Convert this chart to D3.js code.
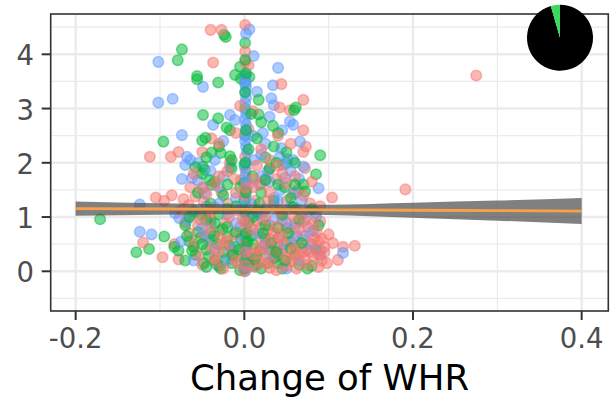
<!DOCTYPE html>
<html>
<head>
<meta charset="utf-8">
<script src="https://cdn.jsdelivr.net/npm/d3@7"></script>
<style>
  body { margin: 0; background: #fff; }
  svg { display: block; }
</style>
</head>
<body>
<div id="chart"></div>
<script>
const width = 610;
const height = 398;
const panel = {left: 50.7, right: 608.3, top: 14, bottom: 311};

const xTicks = [-0.2, 0.0, 0.2, 0.4];
const xMinor = [-0.1, 0.1, 0.3];
const yTicks = [0, 1, 2, 3, 4];
const yMinor = [-0.5, 0.5, 1.5, 2.5, 3.5, 4.5];
const xTitle = "Change of WHR";

// three groups of subjects, [change of WHR, outcome]
const groupA = [
  [0.275,3.61],[0.191,1.51],[-0.112,2.11],[-0.087,2.11],[-0.078,2.20],[-0.120,0.53],[-0.097,0.26],[-0.083,0.50],
  [-0.078,0.22],[0.111,0.21],[0.117,0.45],[0.131,0.47],[0.104,1.36],[0.073,2.30],[0.070,2.60],[0.070,3.16],
  [0.044,3.45],[0.042,3.02],[0.054,2.97],[-0.037,3.85],[0.001,3.86],[0.005,3.80],[-0.040,4.45],[-0.027,4.45],
  [0.001,4.54],[0.001,4.05],[-0.039,2.45],[0.072,1.90],[0.064,1.50],[0.058,1.42],[0.025,1.70],[0.038,1.70],
  [-0.027,1.45],[-0.012,1.70],[-0.004,1.68],[-0.064,1.55],[0.070,2.20],[0.001,2.11],[-0.050,2.20],[-0.017,2.00],
  [0.030,1.88],[0.005,2.62],[0.010,2.95],[-0.005,3.05],[0.001,0.64],[0.002,1.85],
  [-0.105,1.36],[-0.095,1.30],[-0.086,1.40],[-0.072,1.33],[-0.066,1.22],[-0.058,1.38],
  [-0.048,1.28],[-0.035,1.18],[-0.020,1.25],[-0.008,1.12],[0.012,1.30],[0.022,1.08],[0.035,1.22],[0.050,1.30],
  [0.062,1.15],[0.078,1.25],[0.090,1.20],[-0.075,1.12],[-0.062,1.05],[-0.045,1.02],[0.008,1.05],[0.045,1.02],
  [0.068,1.05],[0.085,1.08],
  [-0.070,0.90],[-0.055,0.85],[-0.040,0.95],[-0.022,0.88],[-0.005,0.82],[0.015,0.92],[0.030,0.85],[0.045,0.95],
  [0.060,0.88],[0.075,0.82],[0.090,0.92],[0.052,0.80],[0.018,0.80],
  [-0.065,0.70],[-0.048,0.65],[-0.030,0.75],[-0.012,0.68],[0.005,0.72],[0.020,0.62],[0.035,0.70],[0.050,0.78],
  [0.062,0.65],[0.078,0.72],[0.092,0.60],[0.100,0.68],[0.083,0.61],[0.070,0.58],[0.040,0.62],[0.028,0.76],
  [-0.060,0.50],[-0.040,0.45],[-0.020,0.55],[0.000,0.48],[0.015,0.42],[0.028,0.52],[0.040,0.45],[0.055,0.55],
  [0.068,0.42],[0.080,0.50],[0.095,0.45],[0.105,0.52],[0.088,0.55],[0.060,0.47],[0.047,0.50],[0.033,0.40],
  [-0.055,0.30],[-0.035,0.25],[-0.015,0.35],[0.005,0.28],[0.020,0.35],[0.032,0.22],[0.045,0.32],[0.058,0.25],
  [0.070,0.35],[0.082,0.28],[0.092,0.20],[0.065,0.30],[0.040,0.38],[0.078,0.36],
  [-0.050,0.12],[-0.025,0.05],[-0.008,0.15],[0.012,0.08],[0.025,0.15],[0.038,0.02],[0.050,0.10],[0.062,0.05],
  [0.075,0.12],[0.088,0.08],[0.000,0.00],[0.055,0.18],[0.030,0.06],[-0.035,0.18],
  [-0.050,1.55],[-0.035,1.60],[0.010,1.55],[0.045,1.80],[0.060,1.75],[-0.020,1.85],[0.015,1.95],[0.080,1.65],
  [-0.060,1.80],[0.030,1.45],[0.050,1.62],[-0.010,1.45],[0.070,1.40],[-0.045,1.42],[0.020,1.60],[0.000,1.40],
  [-0.030,2.35],[0.020,2.25],[0.040,2.50],[-0.010,2.55],[0.055,2.35],[0.030,2.05],
  [-0.052,0.95],[-0.042,0.78],[-0.028,0.62],[-0.018,1.00],[-0.002,0.95],[0.010,0.78],[0.025,0.98],[0.038,0.82],
  [0.058,1.00],[0.072,0.95],[0.086,0.72],[0.095,0.35],[0.072,0.22],[0.058,0.40],[0.044,0.65],[0.032,0.58],
  [0.022,0.45],[0.010,0.32],[-0.010,0.20],[-0.030,0.38],[0.065,0.78],[0.082,0.90],[0.098,0.15],[0.050,0.25],
  [0.018,0.18],[0.042,1.12],[0.028,1.30],[-0.040,1.10],[-0.025,0.50],[0.088,0.30],
  [0.001,1.55],[0.002,0.90],[0.001,0.35],[0.002,0.10],[-0.030,1.75],[0.040,1.95],[0.012,1.70]
];
const groupB = [
  [-0.171,0.96],[-0.128,0.35],[-0.113,0.41],[-0.095,0.64],[-0.074,4.09],[-0.079,3.89],[-0.024,4.36],[-0.022,4.32],
  [0.001,4.21],[-0.005,3.77],[-0.056,3.60],[-0.056,3.54],[-0.031,3.48],[-0.011,3.62],[0.001,3.60],[0.001,3.50],
  [0.006,3.58],[-0.004,3.55],[0.017,3.16],[0.061,3.02],[0.059,2.97],[-0.049,2.88],[-0.031,2.82],[0.017,2.89],
  [0.034,2.68],[-0.096,2.39],[-0.050,2.41],[-0.046,2.46],[-0.021,2.65],[-0.017,2.60],[0.090,2.14],[-0.039,2.19],
  [-0.028,2.18],[-0.017,2.12],[0.085,1.79],[0.080,0.10],[-0.083,0.45],[-0.078,0.38],[0.001,3.00],[0.001,2.51],
  [0.050,1.99],[-0.049,1.93],[-0.047,1.87],[-0.039,1.59],
  [-0.065,0.55],[-0.058,0.30],[-0.052,0.62],[-0.048,0.15],[-0.045,0.40],[-0.040,0.70],[-0.035,0.20],[-0.032,0.50],
  [-0.028,0.05],[-0.025,0.35],[-0.020,0.62],[-0.015,0.15],[-0.012,0.45],[-0.008,0.28],[-0.004,0.60],[0.000,0.05],
  [0.002,0.34],[0.006,0.18],[0.010,0.50],[0.015,0.28],[0.020,0.05],[0.025,0.60],[0.030,0.40],[0.040,0.15],
  [0.050,0.55],[0.060,0.30],[0.075,0.05],[0.085,0.40],[-0.060,0.45],[-0.042,0.28],[-0.030,0.10],[-0.018,0.48],
  [-0.005,0.02],[0.008,0.65],[0.012,0.10],[0.035,0.25],[0.045,0.05],[-0.070,0.20],[-0.055,0.72],[-0.038,0.58],
  [-0.022,0.22],[0.002,0.45],[0.018,0.38],[0.028,0.15],[-0.010,0.72],[0.065,0.12],
  [-0.070,0.85],[-0.060,1.10],[-0.055,1.45],[-0.050,1.80],[-0.045,0.95],[-0.040,1.25],[-0.035,1.65],[-0.030,1.05],
  [-0.025,1.40],[-0.020,0.82],[-0.015,1.90],[-0.010,1.20],[-0.005,1.55],[0.000,1.31],[0.000,1.63],[0.000,1.96],
  [0.005,0.90],[0.010,1.75],[0.015,1.10],[0.020,1.45],[0.025,0.85],[0.030,1.90],[0.035,1.30],[0.040,1.60],
  [0.045,1.05],[0.048,1.55],[0.055,1.35],[0.060,2.00],[0.065,0.95],[0.070,1.60],[0.072,1.47],[0.080,1.15],
  [0.088,0.85],[-0.058,1.92],[-0.041,1.68],[-0.065,1.00],[-0.035,0.88],[0.010,1.00],[0.040,0.80],[0.058,1.18],
  [-0.030,2.30],[-0.015,2.05],[0.005,2.25],[0.015,2.45],[0.025,2.10],[0.035,2.30],[0.040,2.55],[0.050,2.20],
  [0.020,2.75],[0.008,2.90],
  [-0.062,0.38],[-0.050,0.50],[-0.045,0.08],[-0.036,0.66],[-0.026,0.78],[-0.014,0.30],[-0.006,0.40],[0.004,0.55],
  [0.012,0.22],[0.022,0.70],[0.032,0.52],[0.038,0.35],[0.048,0.20],[0.055,0.42],[0.068,0.52],[-0.052,1.05],
  [-0.020,1.15],[0.018,1.25],[0.052,0.70],[-0.068,0.65],
  [0.001,3.90],[0.002,3.65],[0.001,3.30],[0.002,2.60],[0.001,2.00],[0.002,1.45],[0.001,1.10],[0.002,0.70],
  [0.001,0.20],[-0.020,1.60],[0.025,1.68],[0.038,2.00],[-0.045,2.10],[0.060,1.60]
];
const groupC = [
  [-0.102,3.86],[-0.102,3.11],[-0.085,3.18],[0.006,4.46],[0.011,3.97],[0.040,3.75],[-0.049,3.40],[0.034,3.43],
  [0.015,3.31],[0.032,3.19],[0.035,3.06],[-0.037,2.70],[-0.017,2.88],[-0.011,2.79],[0.030,2.85],[0.054,2.76],
  [0.058,2.70],[-0.074,2.51],[0.066,2.39],[-0.124,1.23],[-0.124,0.73],[-0.110,0.68],[0.088,1.53],[0.117,0.34],
  [-0.068,2.11],[-0.064,2.05],[-0.070,1.96],[0.044,2.27],[0.042,2.11],[0.058,2.05],[0.070,1.93],[0.070,0.91],
  [0.090,0.39],[0.036,0.24],[-0.033,0.12],[0.015,0.12],[-0.082,1.07],[-0.077,0.98],
  [0.002,3.40],[0.001,3.30],[0.002,3.20],[0.001,3.10],[0.002,2.90],[0.001,2.80],[0.002,2.70],[0.001,2.40],
  [0.002,2.30],[0.001,1.75],[0.002,1.50],[0.001,0.95],[0.002,0.80],[0.001,0.15],[0.002,0.05],[0.001,0.00],
  [0.002,4.38],[0.003,2.20],[0.001,1.20],[0.002,0.55],
  [-0.074,1.70],[-0.062,1.72],[-0.055,1.68],[-0.049,1.53],[-0.047,1.44],[-0.045,1.20],[-0.040,0.90],[-0.030,1.55],
  [-0.025,1.75],[-0.017,1.92],[-0.010,1.35],[-0.005,0.60],[0.008,1.25],[0.012,2.05],[0.018,1.60],[0.022,0.95],
  [0.028,1.85],[0.030,1.65],[0.035,1.35],[0.043,1.50],[0.046,1.96],[0.051,2.07],[0.055,1.20],[0.060,0.80],
  [0.065,1.70],[0.075,1.10],[0.080,0.50],[0.090,0.30],[-0.055,2.00],[-0.035,0.40],[-0.020,0.20],[0.015,0.70],
  [0.040,0.60],[0.050,0.05],[0.065,0.20],[0.045,2.60],[0.025,2.35],[0.022,2.55],[-0.058,1.10],[-0.068,0.95],
  [-0.075,0.55],[-0.060,0.20],[-0.020,1.05],[0.025,1.15],[0.050,0.90],[0.070,0.65],[-0.015,0.40],[0.030,0.30],
  [0.060,1.45],[-0.040,1.85],[0.010,2.50],[-0.025,2.40],[0.082,0.75],
  [-0.050,0.80],[-0.030,1.25],[-0.010,0.88],[0.015,1.05],[0.035,0.95],[0.045,0.40],[0.058,0.60],[0.075,0.40],
  [0.085,1.00],[-0.045,0.62],[0.025,0.50],[-0.005,1.15],[0.040,1.30],[0.068,1.30],[0.020,1.75],[0.055,1.85],
  [0.001,3.60],[0.002,3.50],[0.001,3.45],[0.002,2.60],[0.001,2.50],[0.002,2.00],[0.001,1.90],[0.002,1.65],
  [0.001,1.35],[0.002,1.05],[0.001,0.40],[0.002,0.30],[0.001,0.10],
  [-0.035,2.05],[0.005,1.60],[0.020,2.15],[0.048,1.72]
];
const groupColors = ["#F8766D", "#00BA38", "#619CFF"];

// linear fit with its confidence band
const fitX = [-0.2, -0.1, 0.0, 0.1, 0.2, 0.3, 0.4];
const fitY = [1.155, 1.148, 1.140, 1.133, 1.125, 1.118, 1.110];
const fitLo = [1.025, 1.043, 1.050, 1.038, 0.985, 0.933, 0.870];
const fitHi = [1.285, 1.253, 1.230, 1.228, 1.265, 1.303, 1.350];

// share shown in the corner pie
const pieValues = [0.955, 0.045];
const pieColors = ["#000000", "#3ADB5C"];

document.addEventListener('DOMContentLoaded', function() {
    const svg = d3.select('#chart')
        .append('svg')
        .attr('width', width)
        .attr('height', height);

    const xScale = d3.scaleLinear().domain([-0.2296, 0.4316]).range([panel.left, panel.right]);
    const yScale = d3.scaleLinear().domain([-0.732, 4.743]).range([panel.bottom, panel.top]);

    drawGrid(svg, xScale, yScale);
    drawPoints(svg, xScale, yScale);
    drawFit(svg, xScale, yScale);
    drawAxes(svg, xScale, yScale);
    drawPie(svg);
});

function drawGrid(svg, xScale, yScale) {
    const g = svg.append('g').attr('class', 'grid');
    g.append('rect')
        .attr('x', panel.left).attr('y', panel.top)
        .attr('width', panel.right - panel.left)
        .attr('height', panel.bottom - panel.top)
        .attr('fill', 'white');

    xMinor.forEach(v => {
        g.append('line')
            .attr('x1', xScale(v)).attr('x2', xScale(v))
            .attr('y1', panel.top).attr('y2', panel.bottom)
            .attr('stroke', '#EBEBEB').attr('stroke-width', 1.2);
    });
    yMinor.forEach(v => {
        g.append('line')
            .attr('x1', panel.left).attr('x2', panel.right)
            .attr('y1', yScale(v)).attr('y2', yScale(v))
            .attr('stroke', '#EBEBEB').attr('stroke-width', 1.2);
    });
    xTicks.forEach(v => {
        g.append('line')
            .attr('x1', xScale(v)).attr('x2', xScale(v))
            .attr('y1', panel.top).attr('y2', panel.bottom)
            .attr('stroke', '#EBEBEB').attr('stroke-width', 2.4);
    });
    yTicks.forEach(v => {
        g.append('line')
            .attr('x1', panel.left).attr('x2', panel.right)
            .attr('y1', yScale(v)).attr('y2', yScale(v))
            .attr('stroke', '#EBEBEB').attr('stroke-width', 2.4);
    });
}

function drawPoints(svg, xScale, yScale) {
    // interleave the groups so no colour sits entirely on top
    const groups = [groupA, groupB, groupC];
    const n = d3.max(groups, d => d.length);
    const points = [];
    for (let i = 0; i < n; i++) {
        groups.forEach((grp, k) => {
            if (i < grp.length) points.push({x: grp[i][0], y: grp[i][1], k: k});
        });
    }

    svg.append('g')
        .attr('class', 'points')
        .selectAll('circle')
        .data(points)
        .enter().append('circle')
        .attr('cx', d => xScale(d.x))
        .attr('cy', d => yScale(d.y))
        .attr('r', 5.3)
        .attr('fill', d => groupColors[d.k])
        .attr('fill-opacity', 0.52)
        .attr('stroke', d => groupColors[d.k])
        .attr('stroke-opacity', 0.5)
        .attr('stroke-width', 1.5);
}

function drawFit(svg, xScale, yScale) {
    const rows = fitX.map((x, i) => ({x: x, y: fitY[i], lo: fitLo[i], hi: fitHi[i]}));

    const area = d3.area()
        .x(d => xScale(d.x))
        .y0(d => yScale(d.lo))
        .y1(d => yScale(d.hi))
        .curve(d3.curveMonotoneX);

    const line = d3.line()
        .x(d => xScale(d.x))
        .y(d => yScale(d.y));

    svg.append('path')
        .datum(rows)
        .attr('d', area)
        .attr('fill', '#4a4a4a')
        .attr('fill-opacity', 0.7);

    svg.append('path')
        .datum(rows)
        .attr('d', line)
        .attr('fill', 'none')
        .attr('stroke', '#F9A14A')
        .attr('stroke-width', 2.8);
}

function drawAxes(svg, xScale, yScale) {
    svg.append('rect')
        .attr('x', panel.left).attr('y', panel.top)
        .attr('width', panel.right - panel.left)
        .attr('height', panel.bottom - panel.top)
        .attr('fill', 'none')
        .attr('stroke', '#333333')
        .attr('stroke-width', 1.6);

    const tickFont = 27.5;
    xTicks.forEach(v => {
        svg.append('line')
            .attr('x1', xScale(v)).attr('x2', xScale(v))
            .attr('y1', panel.bottom).attr('y2', panel.bottom + 9)
            .attr('stroke', '#333333').attr('stroke-width', 2);
        svg.append('text')
            .attr('x', xScale(v))
            .attr('y', 348)
            .attr('text-anchor', 'middle')
            .attr('font-family', 'DejaVu Sans, sans-serif')
            .attr('font-size', tickFont)
            .attr('fill', '#4D4D4D')
            .text(d3.format('.1f')(v).replace('−', '-'));
    });
    yTicks.forEach(v => {
        svg.append('line')
            .attr('x1', panel.left - 9).attr('x2', panel.left)
            .attr('y1', yScale(v)).attr('y2', yScale(v))
            .attr('stroke', '#333333').attr('stroke-width', 2);
        svg.append('text')
            .attr('x', 34)
            .attr('y', yScale(v) + 11)
            .attr('text-anchor', 'end')
            .attr('font-family', 'DejaVu Sans, sans-serif')
            .attr('font-size', tickFont)
            .attr('fill', '#4D4D4D')
            .text(v);
    });

    svg.append('text')
        .attr('x', (panel.left + panel.right) / 2)
        .attr('y', 390)
        .attr('text-anchor', 'middle')
        .attr('font-family', 'DejaVu Sans, sans-serif')
        .attr('font-size', 35.5)
        .attr('fill', 'black')
        .text(xTitle);
}

function drawPie(svg) {
    const pie = d3.pie().sort(null)(pieValues);
    const arc = d3.arc().innerRadius(0).outerRadius(33);
    svg.append('g')
        .attr('transform', 'translate(560,37.7)')
        .selectAll('path')
        .data(pie)
        .enter().append('path')
        .attr('d', arc)
        .attr('fill', (d, i) => pieColors[i]);
}
</script>
</body>
</html>
